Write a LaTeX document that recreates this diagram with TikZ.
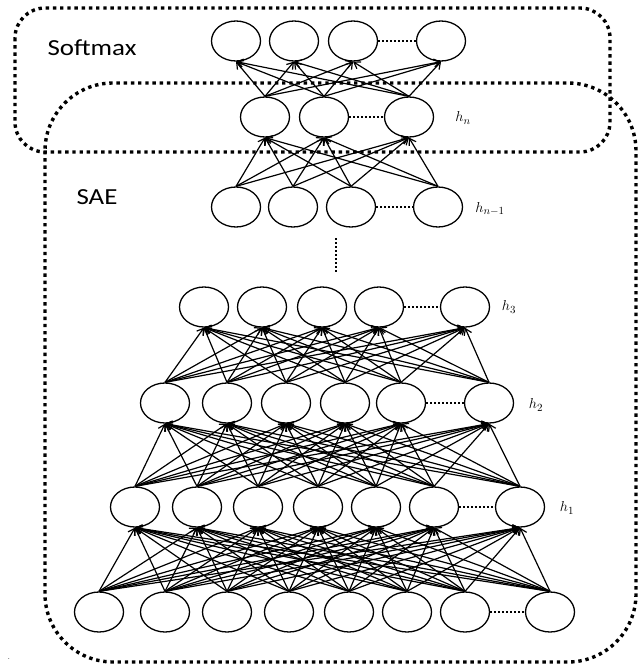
\documentclass[tikz,border=0pt]{standalone}
\usepackage{fontspec}
\newfontfamily\boxfont{Carlito}
\usetikzlibrary{shapes.geometric, positioning, arrows.meta}

\tikzset{
	unit/.style={ellipse, draw, line width=1.3pt, minimum width=49pt, minimum height=40pt, inner sep=0pt},
	wire/.style={line width=1.2pt, -{Straight Barb[length=6pt,width=8pt]}},
	gap/.style={line width=1.6pt, dash pattern=on 2pt off 2pt},
	group/.style={line width=3.4pt, dash pattern=on 3.4pt off 3.8pt},
	tag/.style={font=\boxfont\fontsize{23}{26}\selectfont, xscale=1.17, transform shape},
	layer/.style={font=\fontsize{15}{17}\selectfont}
}

\begin{document}
\begin{tikzpicture}[x=1pt, y=-1pt, node distance=60pt, on grid]
		\useasboundingbox (0,0) rectangle (642,667);

		% boxes
		\draw[group, rounded corners=30pt]	(15,8) rectangle (610,152);
		\draw[group, rounded corners=68pt]	(45,83) rectangle (636,662);
		\node[tag]		(softmax)	at (92,48)		{Softmax};
		\node[tag]		(sae)		at (97,197)		{SAE};

		% input
		\node[unit]		(in1)	at (99,612)			{};
		\node[unit]		(in2)	[right=66pt of in1]	{};
		\node[unit]		(in3)	[right=62pt of in2]	{};
		\node[unit]		(in4)	[right=62pt of in3]	{};
		\node[unit]		(in5)	[right=60pt of in4]	{};
		\node[unit]		(in6)	[right=58pt of in5]	{};
		\node[unit]		(in7)	[right=58pt of in6]	{};
		\node[unit]		(in8)	[right=85pt of in7]	{};

		% h1
		\node[unit]		(one1)	at (135,507)			{};
		\node[unit]		(one2)	[right=62pt of one1]	{};
		\node[unit]		(one3)	[right=61pt of one2]	{};
		\node[unit]		(one4)	[right=60pt of one3]	{};
		\node[unit]		(one5)	[right=58pt of one4]	{};
		\node[unit]		(one6)	[right=58pt of one5]	{};
		\node[unit]		(one7)	[right=86pt of one6]	{};

		% h2
		\node[unit]		(two1)	at (165,403)			{};
		\node[unit]		(two2)	[right=62pt of two1]	{};
		\node[unit]		(two3)	[right=59pt of two2]	{};
		\node[unit]		(two4)	[right=59pt of two3]	{};
		\node[unit]		(two5)	[right=56pt of two4]	{};
		\node[unit]		(two6)	[right=88pt of two5]	{};

		% h3
		\node[unit]		(three1)	at (204,307)			{};
		\node[unit]		(three2)	[right=58pt of three1]	{};
		\node[unit]		(three3)	[right=60pt of three2]	{};
		\node[unit]		(three4)	[right=57pt of three3]	{};
		\node[unit]		(three5)	[right=86pt of three4]	{};

		% h n-1
		\node[unit]		(pre1)	at (236,207)			{};
		\node[unit]		(pre2)	[right=57pt of pre1]	{};
		\node[unit]		(pre3)	[right=58pt of pre2]	{};
		\node[unit]		(pre4)	[right=87pt of pre3]	{};

		% h n
		\node[unit]		(last1)	at (265,117)			{};
		\node[unit]		(last2)	[right=59pt of last1]	{};
		\node[unit]		(last3)	[right=85pt of last2]	{};

		% softmax outputs
		\node[unit]		(out1)	at (236,41)			{};
		\node[unit]		(out2)	[right=58pt of out1]	{};
		\node[unit]		(out3)	[right=59pt of out2]	{};
		\node[unit]		(out4)	[right=88pt of out3]	{};

		% layer names
		\node[layer]	(lbl1)	at (567,508)	{$h_1$};
		\node[layer]	(lbl2)	at (536,405)	{$h_2$};
		\node[layer]	(lbl3)	at (509,307)	{$h_3$};
		\node[layer]	(lblm)	at (490,209)	{$h_{n-1}$};
		\node[layer]	(lbln)	at (463,118)	{$h_n$};

		% skipped units
		\draw[gap]	(in7) -- (in8);
		\draw[gap]	(one6) -- (one7);
		\draw[gap]	(two5) -- (two6);
		\draw[gap]	(three4) -- (three5);
		\draw[gap]	(pre3) -- (pre4);
		\draw[gap]	(last2) -- (last3);
		\draw[gap]	(out3) -- (out4);
		\coordinate	(skipa)	at (336,238);
		\coordinate	(skipb)	at (336,272);
		\draw[gap]	(skipa) -- (skipb);

		% weights
		\foreach \i in {1,...,8}
			\foreach \j in {1,...,7}
				\draw[wire] (in\i.north) -- (one\j.south);
		\foreach \i in {1,...,7}
			\foreach \j in {1,...,6}
				\draw[wire] (one\i.north) -- (two\j.south);
		\foreach \i in {1,...,6}
			\foreach \j in {1,...,5}
				\draw[wire] (two\i.north) -- (three\j.south);
		\foreach \i in {1,...,4}
			\foreach \j in {1,...,3}
				\draw[wire] (pre\i.north) -- (last\j.south);
		\foreach \i in {1,...,3}
			\foreach \j in {1,...,4}
				\draw[wire] (last\i.north) -- (out\j.south);

		\node	(stray)	at (9,659)	{\small .};
	\end{tikzpicture}
\end{document}
